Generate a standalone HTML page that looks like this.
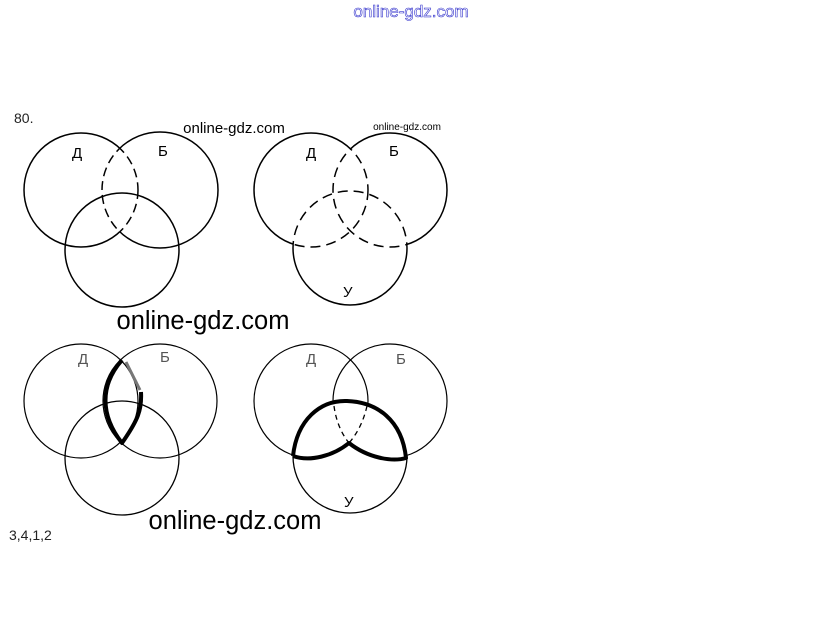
<!DOCTYPE html>
<html><head><meta charset="utf-8"><style>
html,body{margin:0;padding:0;background:#fff;}
svg{display:block;}
text{font-family:"Liberation Sans","DejaVu Sans",sans-serif;}
</style></head><body>
<svg width="823" height="640" viewBox="0 0 823 640" xmlns="http://www.w3.org/2000/svg">
<defs>
<mask id="m2d"><rect width="823" height="640" fill="#fff"/><circle cx="390" cy="190" r="57" fill="#000"/><circle cx="350" cy="248" r="57" fill="#000"/></mask>
<mask id="m2b"><rect width="823" height="640" fill="#fff"/><circle cx="311" cy="190" r="57" fill="#000"/><circle cx="350" cy="248" r="57" fill="#000"/></mask>
<mask id="m2u"><rect width="823" height="640" fill="#fff"/><circle cx="311" cy="190" r="57" fill="#000"/><circle cx="390" cy="190" r="57" fill="#000"/></mask>
<clipPath id="c2d"><circle cx="390" cy="190" r="57"/><circle cx="350" cy="248" r="57"/></clipPath>
<clipPath id="c2b"><circle cx="311" cy="190" r="57"/><circle cx="350" cy="248" r="57"/></clipPath>
<clipPath id="c2u"><circle cx="311" cy="190" r="57"/><circle cx="390" cy="190" r="57"/></clipPath>
<mask id="m1d"><rect width="823" height="640" fill="#fff"/><circle cx="160" cy="190" r="58" fill="#000"/></mask>
<mask id="m1b"><rect width="823" height="640" fill="#fff"/><circle cx="81" cy="190" r="57" fill="#000"/></mask>
<clipPath id="c1d"><circle cx="160" cy="190" r="58"/></clipPath>
<clipPath id="c1b"><circle cx="81" cy="190" r="57"/></clipPath>
<mask id="m4"><rect width="823" height="640" fill="#fff"/><path d="M293,456 C297,420 320,400 347,401 C377,402 402,420 406,458 C392,462 368,458 349,443 C333,456 310,462 293,456Z" fill="#000"/></mask>
</defs>
<text x="411" y="17" font-size="17" text-anchor="middle" fill="#fff" stroke="#3333cc" stroke-width="0.6">online-gdz.com</text>
<text x="14" y="123" font-size="14" fill="#222">80.</text>
<text x="234" y="133" font-size="15" text-anchor="middle" fill="#000">online-gdz.com</text>
<text x="407" y="130" font-size="10" text-anchor="middle" fill="#000">online-gdz.com</text>
<g fill="none" stroke="#000" stroke-width="1.5">
<!-- panel 1 -->
<circle cx="81" cy="190" r="57" mask="url(#m1d)"/>
<circle cx="160" cy="190" r="58" mask="url(#m1b)"/>
<circle cx="81" cy="190" r="57" clip-path="url(#c1d)" stroke-dasharray="9,5"/>
<circle cx="160" cy="190" r="58" clip-path="url(#c1b)" stroke-dasharray="9,5"/>
<circle cx="122" cy="250" r="57"/>
<!-- panel 2 -->
<circle cx="311" cy="190" r="57" mask="url(#m2d)"/>
<circle cx="390" cy="190" r="57" mask="url(#m2b)"/>
<circle cx="350" cy="248" r="57" mask="url(#m2u)"/>
<circle cx="311" cy="190" r="57" clip-path="url(#c2d)" stroke-dasharray="10,6"/>
<circle cx="390" cy="190" r="57" clip-path="url(#c2b)" stroke-dasharray="10,6"/>
<circle cx="350" cy="248" r="57" clip-path="url(#c2u)" stroke-dasharray="10,6"/>
<!-- panel 3 -->
<circle cx="81" cy="401" r="57" stroke-width="1.2"/>
<circle cx="160" cy="401" r="57" stroke-width="1.2"/>
<circle cx="122" cy="458" r="57" stroke-width="1.3"/>
<!-- panel 4 -->
<circle cx="311" cy="401" r="57" stroke-width="1.2" mask="url(#m4)"/>
<circle cx="390" cy="401" r="57" stroke-width="1.2" mask="url(#m4)"/>
<path d="M293,456 A57,57 0 1 0 407,456" stroke-width="1.3"/>
</g>
<g fill="none" stroke="#000" stroke-width="4" stroke-linejoin="round">
<path d="M122,360 C100,385 100,415 122,443 C138,420 142,410 141,392"/>
<path d="M293,456 C297,420 320,400 347,401 C377,402 402,420 406,458 C392,462 368,458 349,443 C333,456 310,462 293,456"/>
</g>
<path d="M126,362 L140,390" stroke="#777" stroke-width="3"/>
<path d="M334,406 Q337,428 349,443 M367,406 Q362,428 349,443" fill="none" stroke="#000" stroke-width="1.3" stroke-dasharray="5,4"/>
<g font-size="15" fill="#000">
<text x="72" y="158">Д</text><text x="158" y="156">Б</text>
<text x="306" y="158">Д</text><text x="389" y="156">Б</text><text x="343" y="297">У</text>
<text x="78" y="364" fill="#555">Д</text><text x="160" y="362" fill="#555">Б</text>
<text x="306" y="364" fill="#555">Д</text><text x="396" y="364" fill="#555">Б</text><text x="344" y="507">У</text>
</g>
<text x="203" y="329" font-size="25.5" text-anchor="middle" fill="#000">online-gdz.com</text>
<text x="235" y="529" font-size="25.5" text-anchor="middle" fill="#000">online-gdz.com</text>
<text x="9" y="540" font-size="14" fill="#222">3,4,1,2</text>
</svg>
</body></html>
